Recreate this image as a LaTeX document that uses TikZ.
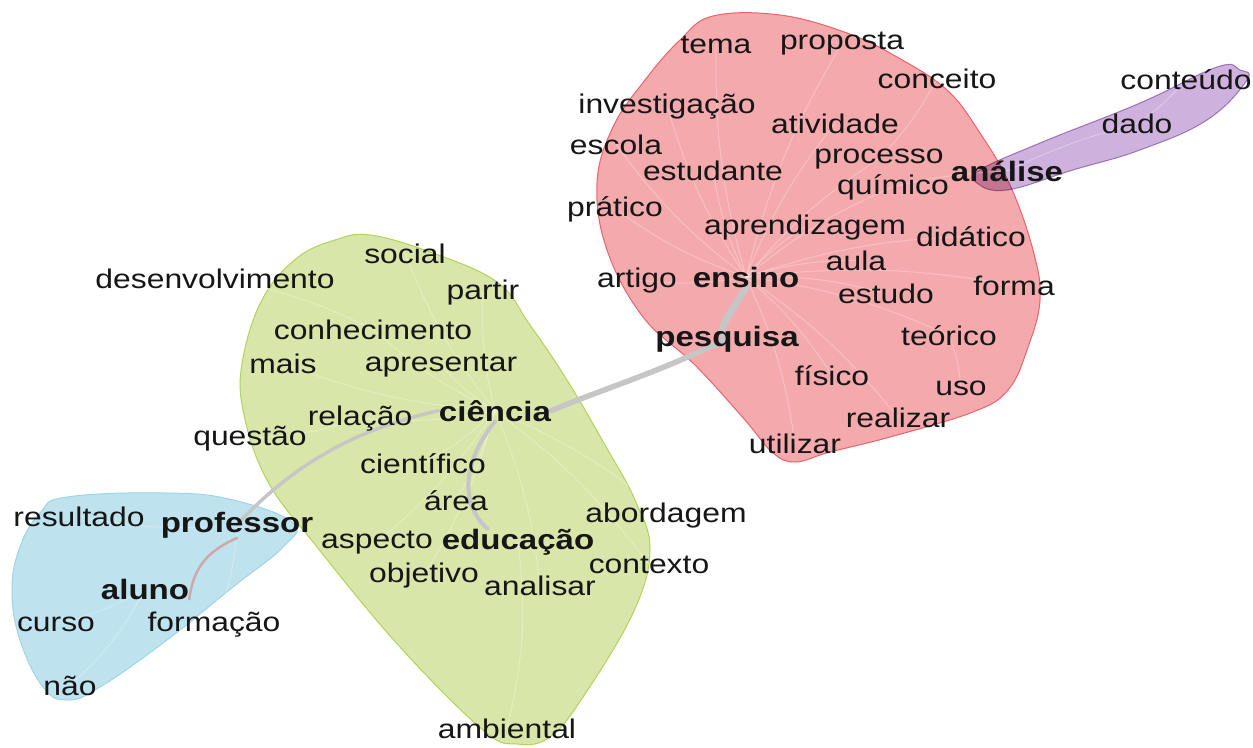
\documentclass[tikz,border=0pt]{standalone}
\usepackage{fontspec}
\setmainfont{Liberation Sans}[FakeStretch=1.18]
\usetikzlibrary{calc}
\pgfdeclarelayer{blobs}
\pgfdeclarelayer{links}
\pgfsetlayers{blobs,links,main}
\definecolor{redfill}{HTML}{F4A9AC}
\definecolor{rededge}{HTML}{E9646A}
\definecolor{greenfill}{HTML}{D8E7A9}
\definecolor{greenedge}{HTML}{B0D35A}
\definecolor{bluefill}{HTML}{BEE3EF}
\definecolor{blueedge}{HTML}{9ED5E6}
\definecolor{purplefill}{HTML}{C9AAD9}
\definecolor{purpleedge}{HTML}{B08CCB}
\definecolor{majorgray}{HTML}{C6C6C6}
\definecolor{pinkgray}{HTML}{CDAAA8}
\definecolor{ink}{HTML}{161616}
\tikzset{
  w/.style={font=\fontsize{27}{30}\selectfont, text=ink, inner sep=0pt, anchor=base},
  hub/.style={w, font=\fontsize{28}{30}\selectfont\bfseries},
  blob/.style={line width=1pt},
  faint/.style={draw=white, draw opacity=0.28, line width=1pt},
  major/.style={draw=majorgray, line cap=round}
}
\begin{document}
\begin{tikzpicture}[x=1pt,y=-1pt]
\useasboundingbox (0,0) rectangle (1253,747);
% ---------- words ----------
% red cluster
\node[w] (tema) at (716,53) {tema};
\node[w] (proposta) at (842,49) {proposta};
\node[w] (conceito) at (937,88) {conceito};
\node[w] (investigacao) at (667,113) {investigação};
\node[w] (atividade) at (835,133) {atividade};
\node[w] (escola) at (616,154) {escola};
\node[w] (processo) at (879,163) {processo};
\node[w] (estudante) at (713,180) {estudante};
\node[w] (quimico) at (893,194) {químico};
\node[hub] (analise) at (1007,181) {análise};
\node[w] (pratico) at (615,216) {prático};
\node[w] (aprendizagem) at (805,234) {aprendizagem};
\node[w] (didatico) at (971,246) {didático};
\node[w] (aula) at (856,270) {aula};
\node[w] (artigo) at (637,287) {artigo};
\node[hub] (ensino) at (746,287) {ensino};
\node[w] (estudo) at (886,303) {estudo};
\node[w] (forma) at (1014,295) {forma};
\node[hub] (pesquisa) at (727,346) {pesquisa};
\node[w] (teorico) at (949,345) {teórico};
\node[w] (fisico) at (832,385) {físico};
\node[w] (uso) at (961,395) {uso};
\node[w] (realizar) at (898,427) {realizar};
\node[w] (utilizar) at (795,453) {utilizar};
% purple cluster
\node[w] (conteudo) at (1186,89) {conteúdo};
\node[w] (dado) at (1137,133) {dado};
% green cluster
\node[w] (social) at (405,263) {social};
\node[w] (desenvolvimento) at (215,288) {desenvolvimento};
\node[w] (partir) at (483,299) {partir};
\node[w] (conhecimento) at (373,339) {conhecimento};
\node[w] (mais) at (283,373) {mais};
\node[w] (apresentar) at (441,371) {apresentar};
\node[w] (relacao) at (360,425) {relação};
\node[hub] (ciencia) at (495,421) {ciência};
\node[w] (questao) at (250,445) {questão};
\node[w] (cientifico) at (423,473) {científico};
\node[w] (area) at (456,510) {área};
\node[w] (abordagem) at (666,522) {abordagem};
\node[w] (aspecto) at (377,548) {aspecto};
\node[hub] (educacao) at (518,549) {educação};
\node[w] (contexto) at (649,573) {contexto};
\node[w] (objetivo) at (424,582) {objetivo};
\node[w] (analisar) at (540,595) {analisar};
\node[w] (ambiental) at (507,738) {ambiental};
% blue cluster
\node[w] (resultado) at (79,526) {resultado};
\node[hub] (professor) at (237,532) {professor};
\node[hub] (aluno) at (145,599) {aluno};
\node[w] (curso) at (56,631) {curso};
\node[w] (formacao) at (214,631) {formação};
\node[w] (nao) at (70,695) {não};
% ---------- blobs ----------
\begin{pgfonlayer}{blobs}
\draw[blob, draw=rededge, fill=redfill] plot[smooth cycle, tension=0.65] coordinates {
 (680,40) (713,16) (780,15) (847,33) (897,57) (947,90) (980,133) (1010,185)
 (1033,250) (1040,300) (1027,350) (1008,390) (973,412) (890,437) (830,452)
 (795,462) (772,452) (745,420) (695,365) (643,317) (607,250) (597,183)
 (613,127) (645,80)};
\draw[blob, draw=greenedge, fill=greenfill] plot[smooth cycle, tension=0.65] coordinates {
 (335,240) (370,235) (430,252) (497,282) (530,325) (567,380) (605,445)
 (635,500) (650,550) (633,613) (583,697) (550,737) (517,744) (483,730)
 (400,647) (317,547) (267,480) (243,410) (243,358) (263,298) (297,258)};
\draw[blob, draw=blueedge, fill=bluefill] plot[smooth cycle, tension=0.7] coordinates {
 (67,497) (167,493) (233,500) (293,523) (283,547) (233,587) (167,640)
 (100,687) (67,700) (43,687) (20,640) (12,590) (20,547) (40,513)};
\draw[blob, draw=purpleedge, fill=purplefill, fill opacity=0.9, blend mode=multiply] plot[smooth cycle, tension=0.7] coordinates {
 (980,170) (1040,143) (1140,103) (1217,67) (1240,70) (1247,80) (1207,120)
 (1140,150) (1073,170) (1007,190) (977,183)};
\end{pgfonlayer}
% ---------- links ----------
\begin{pgfonlayer}{links}
\foreach \t in {artigo,pratico,escola,investigacao,tema,estudante,proposta,atividade,processo,aprendizagem,aula,didatico,forma,estudo,teorico,fisico,realizar,utilizar,quimico}
  \draw[faint] (ensino.center) to[bend left=8] (\t.center);
\draw[faint] (processo.center) to[bend right=8] (conceito.center);
\draw[faint] (teorico.center) to[bend left=8] (uso.center);
\draw[faint] (quimico.center) to[bend left=5] (analise.center);
\draw[faint] (analise.center) to[bend left=5] (dado.center);
\draw[faint] (dado.center) to[bend right=8] (conteudo.center);
\foreach \t in {social,partir,conhecimento,apresentar,mais,relacao,cientifico,area,aspecto,objetivo,abordagem,contexto,analisar}
  \draw[faint] (ciencia.center) to[bend left=8] (\t.center);
\draw[faint] (conhecimento.center) to[bend right=8] (desenvolvimento.center);
\draw[faint] (relacao.center) to[bend left=8] (questao.center);
\draw[faint] (educacao.center) to[bend left=10] (ambiental.center);
\draw[faint] (professor.center) to[bend left=8] (resultado.center);
\draw[faint] (professor.center) to[bend left=10] (formacao.center);
\draw[faint] (aluno.center) to[bend left=8] (curso.center);
\draw[faint] (aluno.center) to[bend left=10] (nao.center);
% major links
\draw[major, line width=7pt] (ensino.south) .. controls (728,318) and (714,332) .. (pesquisa.center);
\draw[major, line width=5.5pt] (pesquisa.center) .. controls (660,372) and (600,390) .. (ciencia.east);
\draw[major, line width=3.5pt] (ciencia.west) .. controls (360,428) and (295,462) .. (professor.center);
\draw[major, line width=4pt] (ciencia.south) .. controls (462,462) and (460,505) .. ($(educacao.north west)!0.3!(educacao.north east)$);
\draw[draw=pinkgray, line width=2.5pt, line cap=round] (professor.south) .. controls (205,552) and (193,570) .. (aluno.south east);
\end{pgfonlayer}
\end{tikzpicture}
\end{document}
